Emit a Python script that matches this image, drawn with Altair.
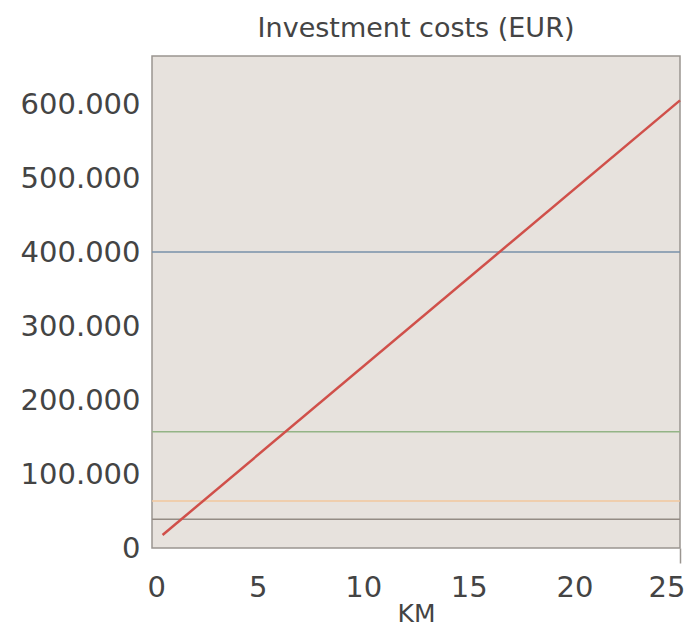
import altair as alt
import pandas as pd

# Data
red_km = [0.5, 25]
red_cost = [17500, 605000]
h_names = ["blue", "green", "orange", "gray"]
h_values = [400000, 157000, 63500, 39000]
h_colors = ["#7890a8", "#94b486", "#f2c79c", "#948b84"]
y_ticks = [0, 100000, 200000, 300000, 400000, 500000, 600000]
x_ticks = [0, 5, 10, 15, 20, 25]

FONT = "DejaVu Sans"
TXT = "#444444"

red_df = pd.DataFrame({"km": red_km, "cost": red_cost})
h_df = pd.DataFrame({"name": h_names, "cost": h_values, "color": h_colors})

x_scale = alt.Scale(domain=[0, 25], nice=False, zero=False)
y_scale = alt.Scale(domain=[0, 665000], nice=False)

hlines = alt.Chart(h_df).mark_rule(strokeWidth=1.5).encode(
    y=alt.Y("cost:Q", scale=y_scale,
            axis=alt.Axis(values=y_ticks, title=None, grid=False, ticks=False, domain=False,
                          labelFont=FONT, labelFontSize=29, labelColor=TXT, labelPadding=12,
                          labelExpr="replace(format(datum.value, ',d'), ',', '.')")),
    color=alt.Color("color:N", scale=None),
)

red = alt.Chart(red_df).mark_line(color="#d0504a", strokeWidth=2.5).encode(
    x=alt.X("km:Q", scale=x_scale,
            axis=alt.Axis(values=x_ticks, title="KM", grid=False, domain=False,
                          ticks=True, tickSize=15, tickColor="#9a9590", tickWidth=1.5,
                          tickOpacity={"condition": {"test": "datum.value == 25", "value": 1}, "value": 0},
                          labelFont=FONT, labelFontSize=29, labelColor=TXT, labelPadding=10,
                          labelFlush=True, labelFlushOffset=5,
                          titleFont=FONT, titleFontSize=25, titleFontWeight="normal",
                          titleColor=TXT, titlePadding=-1)),
    y=alt.Y("cost:Q", scale=y_scale),
)

chart = alt.layer(hlines, red).properties(
    width=528,
    height=492,
    title=alt.TitleParams("Investment costs (EUR)", font=FONT, fontSize=27,
                          fontWeight="normal", color=TXT, anchor="middle", offset=13),
    background="#ffffff",
    padding={"left": 144, "top": 48, "right": 7, "bottom": 80},
    autosize=alt.AutoSizeParams(type="none"),
).configure_view(
    fill="#e7e2dd", stroke="#9a9590", strokeWidth=1.5
)

chart.save("out.html", embed_options={"renderer": "svg", "actions": False})
